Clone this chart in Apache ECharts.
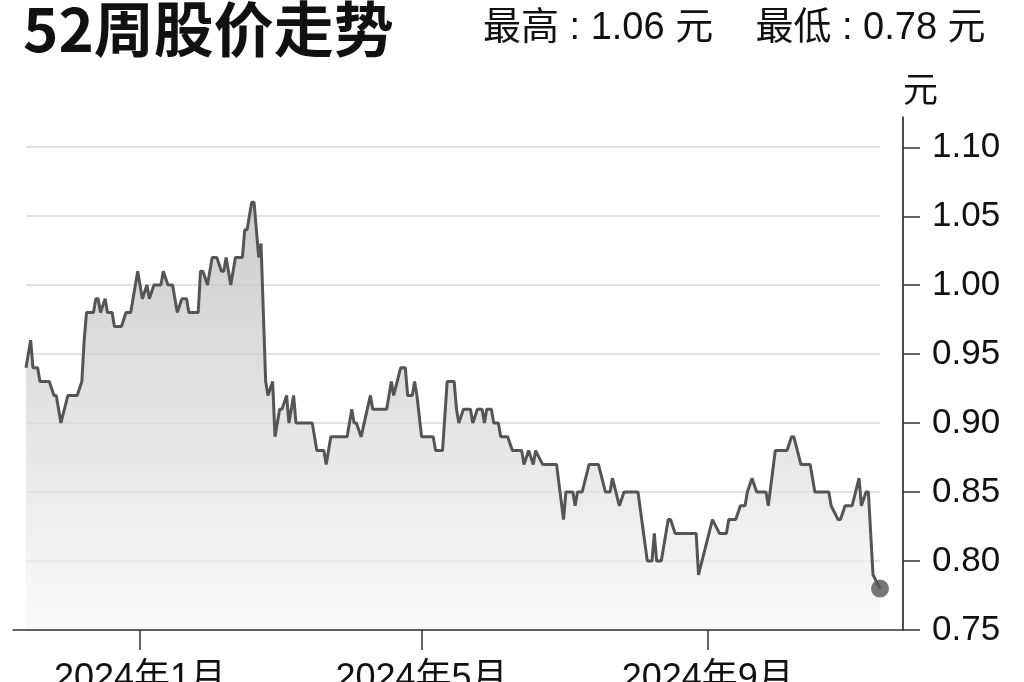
<!DOCTYPE html>
<html>
<head>
<meta charset="utf-8">
<script src="https://cdn.jsdelivr.net/npm/echarts@6/dist/echarts.min.js"></script>
<style>
html,body{margin:0;padding:0;background:#fff;}
#chart{width:1024px;height:682px;}
</style>
</head>
<body>
<div id="chart"></div>
<script>
// ---- data ----
const dates = [
'2023-11-13','2023-11-15','2023-11-16','2023-11-18','2023-11-19','2023-11-23','2023-11-25','2023-11-26','2023-11-28',
'2023-12-01','2023-12-05','2023-12-07','2023-12-08','2023-12-09','2023-12-12','2023-12-13','2023-12-14','2023-12-15','2023-12-17','2023-12-18','2023-12-20','2023-12-21','2023-12-24','2023-12-26','2023-12-28','2023-12-29','2023-12-31',
'2024-01-02','2024-01-04','2024-01-05','2024-01-07','2024-01-10','2024-01-11','2024-01-13','2024-01-15','2024-01-17','2024-01-19','2024-01-21','2024-01-22','2024-01-26','2024-01-27','2024-01-28','2024-01-30',
'2024-02-01','2024-02-03','2024-02-05','2024-02-06','2024-02-07','2024-02-09','2024-02-11','2024-02-14','2024-02-15','2024-02-16','2024-02-18','2024-02-19','2024-02-21','2024-02-22','2024-02-24','2024-02-25','2024-02-27','2024-02-28',
'2024-03-01','2024-03-02','2024-03-04','2024-03-05','2024-03-07','2024-03-08','2024-03-15','2024-03-17','2024-03-20','2024-03-21','2024-03-23','2024-03-30',
'2024-04-01','2024-04-02','2024-04-03','2024-04-05','2024-04-09','2024-04-10','2024-04-16','2024-04-18','2024-04-19','2024-04-22','2024-04-24','2024-04-25','2024-04-27','2024-04-28','2024-04-29',
'2024-05-01','2024-05-06','2024-05-07','2024-05-10','2024-05-12','2024-05-15','2024-05-16','2024-05-17','2024-05-19','2024-05-22','2024-05-23','2024-05-25','2024-05-27','2024-05-28','2024-05-29','2024-05-31',
'2024-06-01','2024-06-03','2024-06-04','2024-06-07','2024-06-09','2024-06-13','2024-06-14','2024-06-16','2024-06-18','2024-06-19','2024-06-22','2024-06-28',
'2024-07-01','2024-07-02','2024-07-05','2024-07-06','2024-07-07','2024-07-09','2024-07-12','2024-07-16','2024-07-19','2024-07-21','2024-07-22','2024-07-25','2024-07-27',
'2024-08-02','2024-08-06','2024-08-08','2024-08-09','2024-08-10','2024-08-12','2024-08-15','2024-08-16','2024-08-18','2024-08-27','2024-08-28',
'2024-09-03','2024-09-06','2024-09-09','2024-09-10','2024-09-13','2024-09-15','2024-09-17','2024-09-18','2024-09-20','2024-09-22','2024-09-26','2024-09-27','2024-09-30',
'2024-10-05','2024-10-07','2024-10-08','2024-10-11','2024-10-15','2024-10-17','2024-10-23','2024-10-24','2024-10-27','2024-10-28','2024-10-30',
'2024-11-02','2024-11-05','2024-11-06','2024-11-08','2024-11-09','2024-11-11','2024-11-14'
];
const prices = [
0.94,0.96,0.94,0.94,0.93,0.93,0.92,0.92,0.90,
0.92,0.92,0.93,0.96,0.98,0.98,0.99,0.99,0.98,0.99,0.98,0.98,0.97,0.97,0.98,0.98,0.99,1.01,
0.99,1.00,0.99,1.00,1.00,1.01,1.00,1.00,0.98,0.99,0.99,0.98,0.98,1.01,1.01,1.00,
1.02,1.02,1.01,1.01,1.02,1.00,1.02,1.02,1.04,1.04,1.06,1.06,1.02,1.03,0.93,0.92,0.93,0.89,
0.91,0.91,0.92,0.90,0.92,0.90,0.90,0.88,0.88,0.87,0.89,0.89,
0.91,0.90,0.90,0.89,0.92,0.91,0.91,0.93,0.92,0.94,0.94,0.92,0.92,0.93,0.92,
0.89,0.89,0.88,0.88,0.93,0.93,0.91,0.90,0.91,0.91,0.90,0.91,0.91,0.90,0.91,0.91,
0.90,0.90,0.89,0.89,0.88,0.88,0.87,0.88,0.87,0.88,0.87,0.87,
0.83,0.85,0.85,0.84,0.85,0.85,0.87,0.87,0.85,0.85,0.86,0.84,0.85,
0.85,0.80,0.80,0.82,0.80,0.80,0.83,0.83,0.82,0.82,0.79,
0.83,0.82,0.82,0.83,0.83,0.84,0.84,0.85,0.86,0.85,0.85,0.84,0.88,
0.88,0.89,0.89,0.87,0.87,0.85,0.85,0.84,0.83,0.83,0.84,
0.84,0.86,0.84,0.85,0.85,0.79,0.78
];
const xTickDates = ['2024-01-01','2024-05-01','2024-09-01'];
const xRange = ['2023-11-13','2024-11-14'];
const yTickValues = [0.75,0.80,0.85,0.90,0.95,1.00,1.05,1.10];
const titleText = '52周股价走势';
const unitText = '元';

// ---- chart ----
function ts(s){const p=s.split('-').map(Number);return new Date(p[0],p[1]-1,p[2]).getTime();}
const hi = Math.max(...prices), lo = Math.min(...prices);
const seriesData = dates.map((d,i)=>[ts(d), prices[i]]);
const lastPoint = seriesData[seriesData.length-1];
const xTicks = xTickDates.map(ts);
const latin = 'Liberation Sans, Noto Sans CJK SC, sans-serif';
const yMin = yTickValues[0], yTop = yTickValues[yTickValues.length-1], yFrameMax = 1.122;

const chart = echarts.init(document.getElementById('chart'), null, {renderer:'canvas'});
chart.setOption({
  animation:false,
  backgroundColor:'#fff',
  title:[
    {text:titleText, left:23, top:-1, padding:0,
     textStyle:{fontSize:60, fontWeight:'bold', fontFamily:'Noto Sans CJK SC', color:'#111'}},
    {text:'最高 : ' + hi.toFixed(2) + ' ' + unitText + '    最低 : ' + lo.toFixed(2) + ' ' + unitText,
     left:483, top:10, padding:0,
     textStyle:{fontSize:38, fontWeight:'normal', fontFamily:latin, color:'#111'}}
  ],
  grid:[
    // plot area (data + gridlines), 0.75 .. 1.10
    {left:26, right:144, top:147, bottom:52, containLabel:false, outerBoundsMode:'none'},
    // frame (axis lines, value scale), 0.75 .. 1.122
    {left:13, right:121, top:117, bottom:52, containLabel:false, outerBoundsMode:'none'}
  ],
  xAxis:[
    {gridIndex:0, type:'value', min:ts(xRange[0]), max:ts(xRange[1]),
     axisLine:{show:false},
     axisTick:{show:true, length:20, customValues:xTicks, lineStyle:{color:'#333', width:1.5}},
     axisLabel:{customValues:xTicks, margin:31, fontSize:36, fontFamily:latin, color:'#111',
       formatter:function(v){const d=new Date(v);return d.getFullYear()+'年'+(d.getMonth()+1)+'月';}},
     splitLine:{show:false}},
    {gridIndex:1, type:'value', min:0, max:1, z:5,
     axisLine:{show:true, onZero:false, lineStyle:{color:'#333', width:1.5}},
     axisTick:{show:false}, axisLabel:{show:false}, splitLine:{show:false}}
  ],
  yAxis:[
    {gridIndex:0, type:'value', min:yMin, max:yTop, interval:0.05,
     axisLine:{show:false}, axisTick:{show:false}, axisLabel:{show:false},
     splitLine:{show:true, lineStyle:{color:'#e2e2e2', width:2}}},
    {gridIndex:1, type:'value', position:'right', min:yMin, max:yFrameMax, z:5,
     axisLine:{show:true, onZero:false, lineStyle:{color:'#111', width:1.5}},
     axisTick:{show:true, length:17, customValues:yTickValues, lineStyle:{color:'#333', width:1.5}},
     axisLabel:{customValues:yTickValues, margin:29, fontSize:35, fontFamily:latin, color:'#111',
       formatter:function(v){return v.toFixed(2);}},
     splitLine:{show:false},
     name:unitText, nameLocation:'end', nameGap:7,
     nameTextStyle:{fontSize:35, fontFamily:latin, color:'#111', align:'left'}}
  ],
  series:[
    {type:'line', xAxisIndex:0, yAxisIndex:0, data:seriesData, symbol:'none', smooth:false,
     lineStyle:{color:'#555', width:3},
     areaStyle:{color:new echarts.graphic.LinearGradient(0,0,0,1,[{offset:0,color:'#b8b8b8'},{offset:1,color:'#f8f8f8'}])},
     z:2},
    {type:'scatter', xAxisIndex:0, yAxisIndex:0, data:[lastPoint], symbol:'circle', symbolSize:18,
     itemStyle:{color:'#555'}, z:3}
  ]
});
</script>
</body>
</html>
